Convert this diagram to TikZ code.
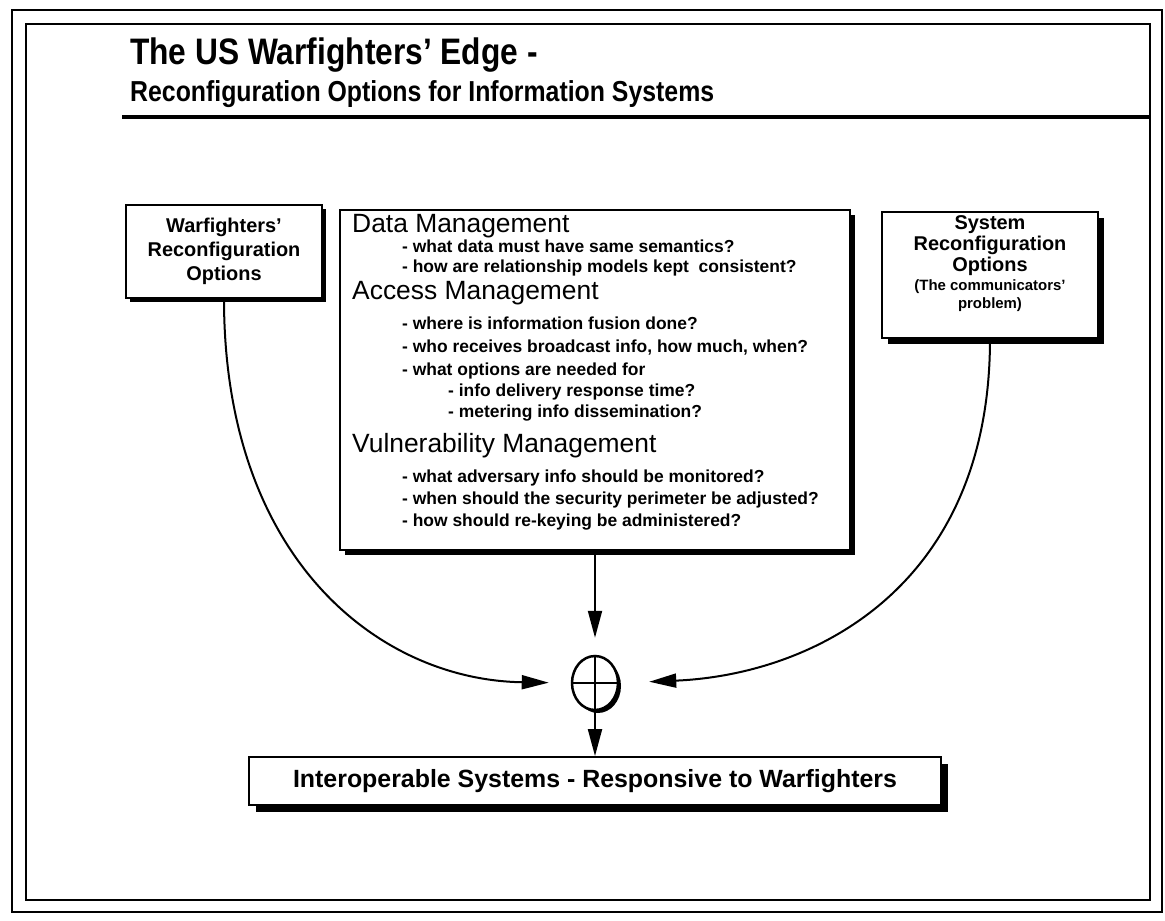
\documentclass[tikz,border=0pt]{standalone}
\usepackage{fontspec}
\setmainfont{Liberation Sans}
\newfontfamily\narrowfont[FakeStretch=0.86]{Liberation Sans}
\usetikzlibrary{arrows.meta,shapes.geometric,shadows}

\begin{document}
\begin{tikzpicture}[x=1bp, y=-1bp,
    box/.style={draw, line width=1.8bp, fill=white, inner sep=0pt},
    dropblack/.style={drop shadow={shadow xshift=#1, shadow yshift=-#1, opacity=1, fill=black}},
    head/.style={font=\fontsize{26.5}{30}\selectfont, anchor=mid west, inner sep=0pt},
    item/.style={font=\bfseries\fontsize{17.5}{20}\selectfont, anchor=mid west, inner sep=0pt},
    feed/.style={line width=2bp, -{Triangle[length=27bp,width=14bp]}}]
    \useasboundingbox (0,0) rectangle (1165,921);

    % frame
    \draw[line width=1.5bp] (12,10) rectangle (1162,912);
    \draw[line width=1.8bp] (26,24) rectangle (1150,900);

    % title
    \node[anchor=base west, inner sep=0pt, font=\narrowfont\bfseries\fontsize{37}{40}\selectfont] (title) at (130,64) {The US Warfighters’ Edge -};
    \node[anchor=base west, inner sep=0pt, font=\narrowfont\bfseries\fontsize{29}{32}\selectfont] (subtitle) at (130,101) {Reconfiguration Options for Information Systems};
    \draw[line width=4.5bp] (122,117) -- (1150,117);

    % option boxes
    \node[box, dropblack=4bp, minimum width=196bp, minimum height=93bp, align=center,
          font=\bfseries\fontsize{20}{24}\selectfont] (wopts) at (224,251.5)
          {Warfighters’\\Reconfiguration\\Options};
    \node[box, dropblack=6bp, minimum width=216bp, minimum height=126bp] (sopts) at (990,275) {};
    \node[box, dropblack=5bp, minimum width=510bp, minimum height=340bp] (mgmt) at (595,380) {};

    % system options text
    \node[anchor=mid, inner sep=0pt, font=\bfseries\fontsize{20}{23}\selectfont] (s1) at (990,227) {System};
    \node[anchor=mid, inner sep=0pt, font=\bfseries\fontsize{20}{23}\selectfont] (s2) at (990,248) {Reconfiguration};
    \node[anchor=mid, inner sep=0pt, font=\bfseries\fontsize{20}{23}\selectfont] (s3) at (990,269) {Options};
    \node[anchor=mid, inner sep=0pt, font=\bfseries\fontsize{15}{18}\selectfont] (s4) at (990,288) {(The communicators’};
    \node[anchor=mid, inner sep=0pt, font=\bfseries\fontsize{15}{18}\selectfont] (s5) at (990,306) {problem)};

    % management text
    \node[head] (dm) at (352,230) {Data Management};
    \node[item] (dm1) at (402,250) {- what data must have same semantics?};
    \node[item] (dm2) at (402,270) {- how are relationship models kept\ \ consistent?};
    \node[head] (am) at (352,297) {Access Management};
    \node[item] (am1) at (402,327) {- where is information fusion done?};
    \node[item] (am2) at (402,350) {- who receives broadcast info, how much, when?};
    \node[item] (am3) at (402,373) {- what options are needed for};
    \node[item] (am4) at (448,394) {- info delivery response time?};
    \node[item] (am5) at (448,415) {- metering info dissemination?};
    \node[head] (vm) at (352,450) {Vulnerability Management};
    \node[item] (vm1) at (402,480) {- what adversary info should be monitored?};
    \node[item] (vm2) at (402,502) {- when should the security perimeter be adjusted?};
    \node[item] (vm3) at (402,524) {- how should re-keying be administered?};

    % combining point
    \node[ellipse, draw, line width=2.5bp, fill=white, minimum width=46bp, minimum height=54bp,
          inner sep=0pt, dropblack=3bp] (sum) at (595,683) {};
    \draw[line width=2bp] (sum.west) -- (sum.east);
    \draw[line width=2bp] (sum.north) -- (sum.south);

    % result
    \node[box, dropblack=7bp, minimum width=692bp, minimum height=48bp,
          font=\bfseries\fontsize{25}{28}\selectfont] (interop) at (595,781)
          {Interoperable Systems - Responsive to Warfighters};

    % arrows
    \draw[feed, shorten >=17bp] (mgmt.south) -- (sum.north);
    \draw[feed, shorten >=22bp] (wopts.south) .. controls (224,560) and (380,680) .. (sum.west);
    \draw[feed, shorten >=30bp] (sopts.south) .. controls (990,590) and (810,675) .. (sum.east);
    \draw[feed] (sum.south) -- (interop.north);
\end{tikzpicture}
\end{document}
